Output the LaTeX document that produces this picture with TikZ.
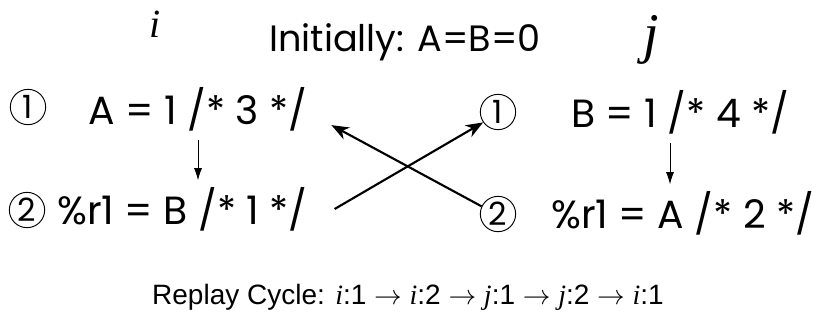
\documentclass[tikz,border=0pt]{standalone}
\usepackage{fontspec}
\setmainfont{Poppins}
\newfontfamily\arialfont{Liberation Sans}
\newfontfamily\timesfont{Liberation Serif}
\usetikzlibrary{arrows.meta,positioning}
\newcommand{\tid}[1]{{\timesfont\itshape #1}}

\begin{document}
\begin{tikzpicture}[
	x=0.75pt, y=-0.75pt,
	num/.style={circle, draw=black, line width=0.7pt, minimum size=26.5pt, inner sep=0pt, font=\fontsize{24}{24}\selectfont},
	stmt/.style={anchor=west, inner sep=0pt, font=\fontsize{29.5}{32}\selectfont},
	flow/.style={-{Latex[length=9pt,width=6pt]}, line width=0.6pt},
	race/.style={-{Stealth[length=13pt,width=10pt,inset=4pt]}, line width=1.6pt},
]
\useasboundingbox (0,0) rectangle (816,328);
\node[inner sep=0pt, font=\timesfont\itshape\fontsize{30}{30}\selectfont] (ti) at (155,24) {i};
\node[font=\fontsize{27.5}{30}\selectfont, inner sep=0pt] (init) at (405,42) {Initially: A=B=0};
\node[inner sep=0pt, font=\timesfont\itshape\fontsize{42}{42}\selectfont] (tj) at (651,40) {j};

% thread i
\node[num] (l1) at (28,107) {1};
\node[stmt] (l1s) at (88,109) {A = 1 /* 3 */};
\node[num] (l2) at (27,210) {2};
\node[stmt] (l2s) at (57,209) {\%r1 = B /* 1 */};

% thread j
\node[num] (r1) at (498,112) {1};
\node[stmt] (r1s) at (571,112) {B = 1 /* 4 */};
\node[num] (r2) at (498,214) {2};
\node[stmt] (r2s) at (551,213) {\%r1 = A /* 2 */};

\coordinate (lx) at (198,0);
\coordinate (rx) at (670,0);
\draw[flow] ([yshift=-7pt]l1s.south -| lx) -- ([yshift=5pt]l2s.north -| lx);
\draw[flow] ([yshift=-7pt]r1s.south -| rx) -- ([yshift=5pt]r2s.north -| rx);

\draw[race] ([xshift=20pt]l2s.east) -- (r1.215);
\draw[race] (r2.155) -- ([xshift=18pt,yshift=4.5pt]l1s.south east);

\node[font=\arialfont\fontsize{21}{24}\selectfont, inner sep=0pt] (cycle) at (408,297)
  {Replay Cycle: \tid{i}:1 $\rightarrow$ \tid{i}:2 $\rightarrow$ \tid{j}:1 $\rightarrow$ \tid{j}:2 $\rightarrow$ \tid{i}:1};
\end{tikzpicture}
\end{document}
